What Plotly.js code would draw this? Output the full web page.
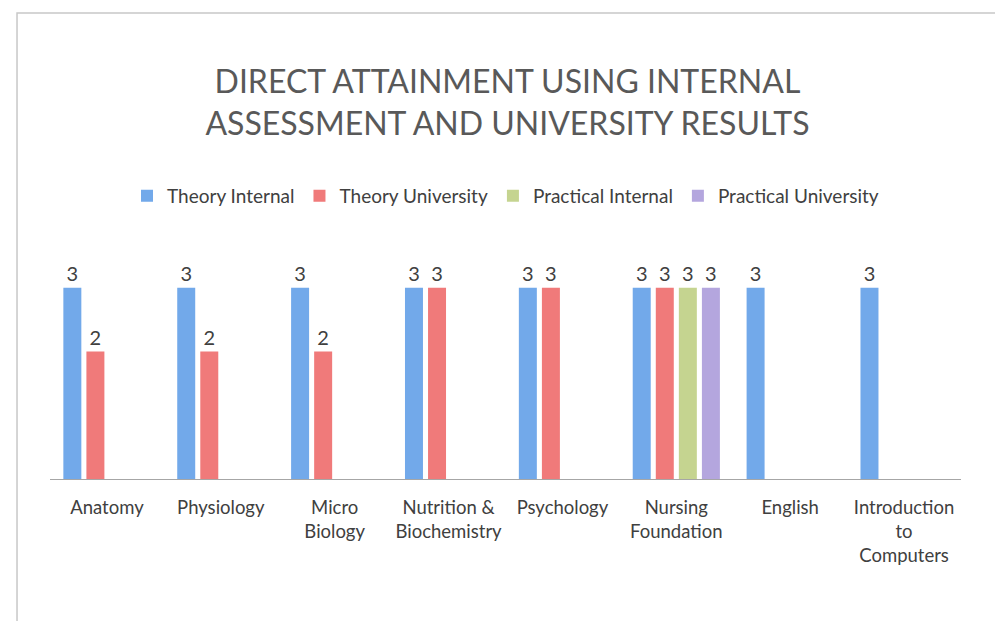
<!DOCTYPE html>
<html>
<head>
<meta charset="utf-8">
<script src="https://cdn.plot.ly/plotly-3.0.1.min.js"></script>
<style>
  html, body { margin: 0; padding: 0; background: #fff; }
  #chart { width: 995px; height: 621px; }
</style>
</head>
<body>
<div id="chart"></div>
<script>
// Subjects on the x axis
const subjects = [
  'Anatomy', 'Physiology', 'Micro<br>Biology', 'Nutrition &<br>Biochemistry',
  'Psychology', 'Nursing<br>Foundation', 'English', 'Introduction<br>to<br>Computers'
];

// Attainment levels per series (null = no bar)
const theoryInternal = [3, 3, 3, 3, 3, 3, 3, 3];
const theoryUniversity = [2, 2, 2, 3, 3, 3, null, null];
const practicalInternal = [null, null, null, null, null, 3, null, null];
const practicalUniversity = [null, null, null, null, null, 3, null, null];

const seriesNames = ['Theory Internal', 'Theory University', 'Practical Internal', 'Practical University'];
const seriesColors = ['#72a9ea', '#f07a7a', '#c5d490', '#b4a6de'];

const FONT = 'Lato, "Open Sans", sans-serif';

const traces = [theoryInternal, theoryUniversity, practicalInternal, practicalUniversity].map((vals, i) => ({
  type: 'bar',
  name: seriesNames[i],
  x: subjects,
  y: vals,
  marker: { color: seriesColors[i] },
  text: vals.map(v => (v === null ? '' : String(v))),
  textposition: 'outside',
  constraintext: 'none',
  textfont: { family: FONT, size: 20, color: '#404040' },
  outsidetextfont: { family: FONT, size: 20, color: '#404040' },
  cliponaxis: false,
  hoverinfo: 'x+y+name'
}));

const layout = {
  width: 995,
  height: 621,
  paper_bgcolor: '#ffffff',
  plot_bgcolor: '#ffffff',
  font: { family: FONT, color: '#404040' },
  title: {
    text: 'DIRECT ATTAINMENT USING INTERNAL<br>ASSESSMENT AND UNIVERSITY RESULTS',
    font: { family: FONT, size: 32, color: '#595959' },
    x: 0.51,
    xanchor: 'center',
    y: 0.85,
    yanchor: 'middle'
  },
  showlegend: true,
  legend: {
    orientation: 'h',
    x: 0.5,
    xanchor: 'center',
    y: 1.27,
    yanchor: 'middle',
    font: { family: FONT, size: 19, color: '#404040' },
    itemwidth: 30,
    traceorder: 'normal'
  },
  barmode: 'group',
  bargap: 0.19,
  bargroupgap: 0.22,
  margin: { l: 50, r: 34, t: 256, b: 142 },
  xaxis: {
    type: 'category',
    showline: true,
    linecolor: '#a6a6a6',
    linewidth: 1,
    ticks: '',
    ticklabelstandoff: 12,
    tickfont: { family: FONT, size: 18.5, color: '#404040' },
    showgrid: false,
    zeroline: false
  },
  yaxis: {
    range: [0, 3.5],
    visible: false,
    showgrid: false,
    zeroline: false
  },
  shapes: [{
    type: 'rect',
    xref: 'paper', yref: 'paper',
    x0: -0.0362, x1: 1.2,
    y0: -1.5, y1: 2.09,
    line: { color: '#c8c8c8', width: 1.5 },
    fillcolor: 'rgba(0,0,0,0)'
  }]
};

Plotly.newPlot('chart', traces, layout, { displayModeBar: false, staticPlot: true });
</script>
</body>
</html>
